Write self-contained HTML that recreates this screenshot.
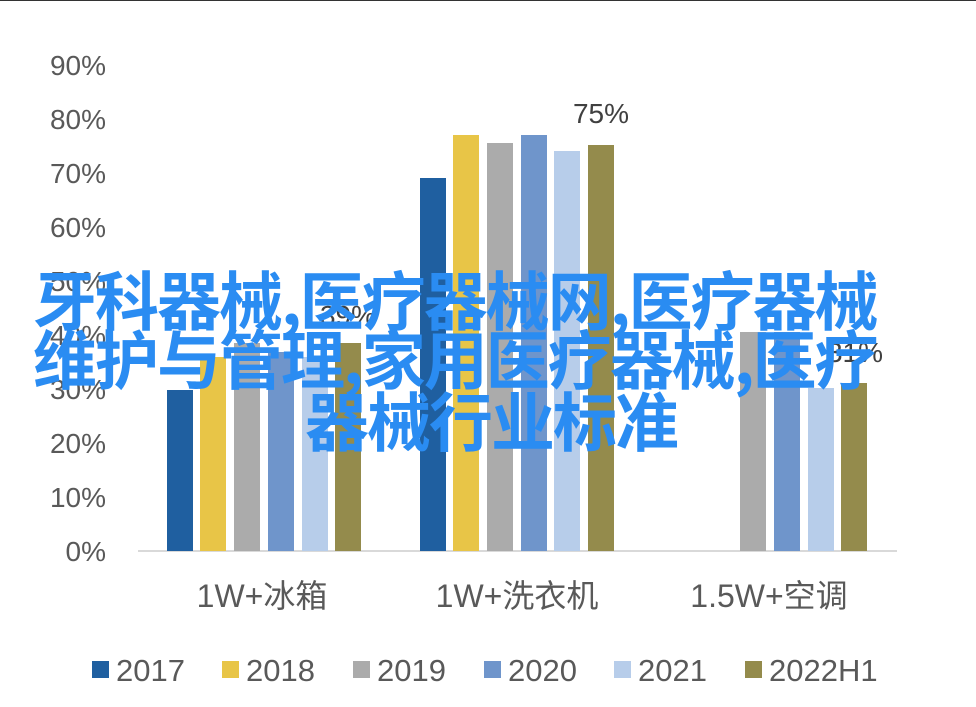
<!DOCTYPE html>
<html><head><meta charset="utf-8"><style>
body{margin:0;background:#fff;width:976px;height:707px;overflow:hidden;position:relative;font-family:"Liberation Sans","Noto Sans CJK SC",sans-serif}
.ov{position:absolute;white-space:nowrap;color:#2a8cf2;font-size:64px;line-height:64px;font-family:"Noto Sans CJK SC","WenQuanYi Zen Hei",sans-serif;font-weight:700;letter-spacing:-2px}
</style></head><body>
<svg width="976" height="707" style="position:absolute;left:0;top:0" font-family="Liberation Sans, Noto Sans CJK SC, sans-serif">
<line x1="0" y1="0.5" x2="976" y2="0.5" stroke="#333"/>
<g font-size="28" fill="#595959" text-anchor="end">
<text x="106" y="75">90%</text><text x="106" y="129">80%</text><text x="106" y="183">70%</text><text x="106" y="237">60%</text><text x="106" y="291">50%</text><text x="106" y="345">40%</text><text x="106" y="399">30%</text><text x="106" y="453">20%</text><text x="106" y="507">10%</text><text x="106" y="561">0%</text>
</g>
<line x1="138" y1="551" x2="897" y2="551" stroke="#d9d9d9" stroke-width="2"/>
<g>
<rect x="167" y="390" width="26" height="161" fill="#1f5fa0"/>
<rect x="200" y="357" width="26" height="194" fill="#e8c547"/>
<rect x="234" y="343" width="26" height="208" fill="#ababab"/>
<rect x="268" y="352" width="26" height="199" fill="#6f95cb"/>
<rect x="302" y="357" width="26" height="194" fill="#b7cdea"/>
<rect x="335" y="343" width="26" height="208" fill="#948b4c"/>
<rect x="420" y="178" width="26" height="373" fill="#1f5fa0"/>
<rect x="453" y="135" width="26" height="416" fill="#e8c547"/>
<rect x="487" y="143" width="26" height="408" fill="#ababab"/>
<rect x="521" y="135" width="26" height="416" fill="#6f95cb"/>
<rect x="554" y="151" width="26" height="400" fill="#b7cdea"/>
<rect x="588" y="145" width="26" height="406" fill="#948b4c"/>
<rect x="740" y="332" width="26" height="219" fill="#ababab"/>
<rect x="774" y="332" width="26" height="219" fill="#6f95cb"/>
<rect x="808" y="388" width="26" height="163" fill="#b7cdea"/>
<rect x="841" y="383" width="26" height="168" fill="#948b4c"/>
</g>
<g font-size="28" fill="#404040" text-anchor="middle">
<text x="601" y="123">75%</text><text x="348" y="325">39%</text><text x="855" y="362">31%</text>
</g>
<g font-size="32" fill="#595959" text-anchor="middle">
<text x="262" y="607">1W+冰箱</text><text x="517" y="607">1W+洗衣机</text><text x="769" y="607">1.5W+空调</text>
</g>
<g font-size="31" fill="#595959">
<rect x="92" y="661" width="17" height="17" fill="#1f5fa0"/><text x="116" y="681">2017</text>
<rect x="222" y="661" width="17" height="17" fill="#e8c547"/><text x="246" y="681">2018</text>
<rect x="353" y="661" width="17" height="17" fill="#ababab"/><text x="377" y="681">2019</text>
<rect x="484" y="661" width="17" height="17" fill="#6f95cb"/><text x="508" y="681">2020</text>
<rect x="614" y="661" width="17" height="17" fill="#b7cdea"/><text x="638" y="681">2021</text>
<rect x="745" y="661" width="17" height="17" fill="#948b4c"/><text x="769" y="681">2022H1</text>
</g>
</svg>
<div class="ov" style="left:33px;top:266px">牙科器械,医疗器械网,医疗器械</div>
<div class="ov" style="left:33px;top:325px">维护与管理,家用医疗器械,医疗</div>
<div class="ov" style="left:305px;top:387px">器械行业标准</div>
</body></html>
